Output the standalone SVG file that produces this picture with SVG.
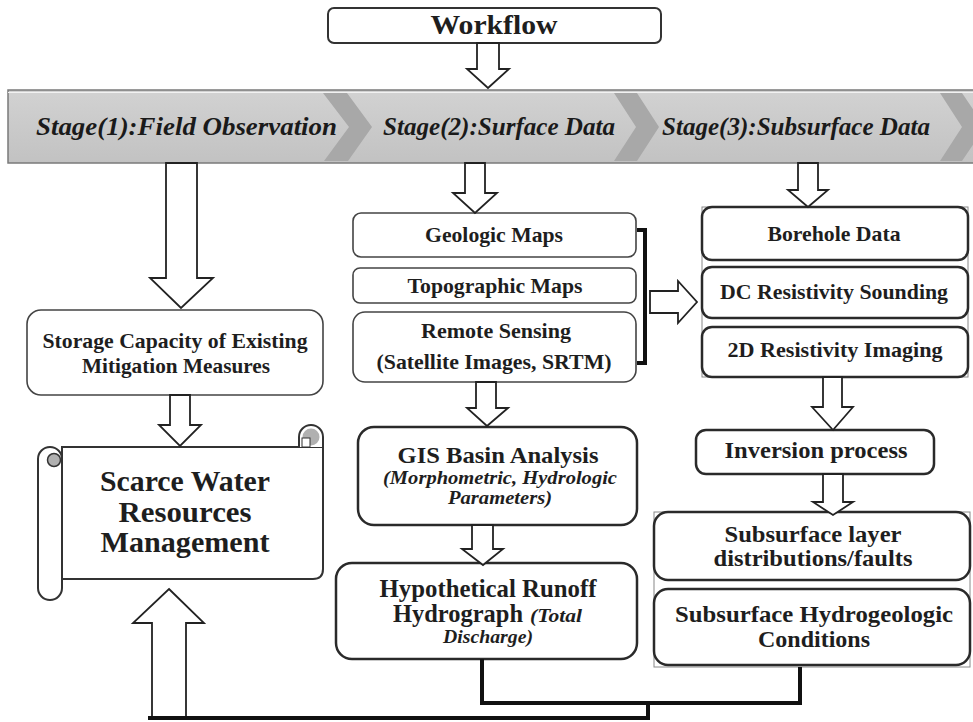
<svg xmlns="http://www.w3.org/2000/svg" width="973" height="722" viewBox="0 0 973 722">
<defs>
<linearGradient id="bg" x1="0" y1="0" x2="0" y2="1">
<stop offset="0" stop-color="#d2d2d2"/>
<stop offset="1" stop-color="#c2c2c2"/>
</linearGradient>
</defs>
<style>
text{font-family:"Liberation Serif","Times New Roman",serif;font-weight:bold;fill:#1e1e1e;text-anchor:middle}
.it{font-style:italic}
.stage{font-style:italic;font-size:26px;text-anchor:start;fill:#1a1a1a}
.box{fill:#fff;stroke:#2a2a2a;stroke-width:2.5}
.thin{fill:#fff;stroke:#444;stroke-width:1.6}
.arrow{fill:#fff;stroke:#222;stroke-width:1.8;stroke-linejoin:miter}
.conn{fill:none;stroke:#111;stroke-width:4}
.band{fill:#a8a8a8}
</style>

<g id="banner">
<rect x="8" y="90" width="975" height="73" fill="url(#bg)" stroke="#7a7a7a" stroke-width="1.5"/>
<line x1="8" y1="92.5" x2="973" y2="92.5" stroke="#f2f2f2" stroke-width="1.2"/>
<polygon class="band" points="323,93 347,93 372,127 348,161 324,161 349,127"/>
<polygon class="band" points="614,93 637,93 659,127 637,161 614,161 636,127"/>
<polygon class="band" points="940,93 962,93 985,127 962,161 940,161 962,127"/>
<text class="stage" x="36" y="135" textLength="301" lengthAdjust="spacingAndGlyphs">Stage(1):Field Observation</text>
<text class="stage" x="383" y="135" textLength="232" lengthAdjust="spacingAndGlyphs">Stage(2):Surface Data</text>
<text class="stage" x="662" y="135" textLength="268" lengthAdjust="spacingAndGlyphs">Stage(3):Subsurface Data</text>
</g>

<g id="workflow">
<rect x="328" y="8" width="333" height="35" rx="6" fill="#fff" stroke="#333" stroke-width="2"/>
<text x="494" y="34" font-size="28" textLength="127" lengthAdjust="spacingAndGlyphs">Workflow</text>
</g>

<g id="storage">
<rect x="27" y="310" width="296" height="85" rx="14" class="thin"/>
<text x="175" y="348" font-size="21" textLength="265" lengthAdjust="spacingAndGlyphs">Storage Capacity of Existing</text>
<text x="176" y="373" font-size="21" textLength="188" lengthAdjust="spacingAndGlyphs">Mitigation Measures</text>
</g>

<g id="scroll">
<path d="M62,447 H323 V569 Q323,579 313,579 H62 Z" fill="#fff" stroke="#333" stroke-width="2"/>
<path d="M299,447 V437 A12,12 0 0 1 323,437 V447" fill="#fff" stroke="#333" stroke-width="2"/>
<circle cx="311" cy="437" r="8.5" fill="#b0b0b0"/>
<rect x="302" y="438" width="8" height="9" fill="#fff" stroke="#333" stroke-width="1"/>
<rect x="38" y="447" width="24" height="153" rx="12" fill="#fff" stroke="#333" stroke-width="2"/>
<circle cx="54" cy="460" r="6.5" fill="#b0b0b0" stroke="#333" stroke-width="1.5"/>
<text x="185" y="491" font-size="29" textLength="170" lengthAdjust="spacingAndGlyphs">Scarce Water</text>
<text x="185" y="522" font-size="29" textLength="133" lengthAdjust="spacingAndGlyphs">Resources</text>
<text x="185" y="552" font-size="29" textLength="169" lengthAdjust="spacingAndGlyphs">Management</text>
</g>

<g id="geologic">
<rect x="353" y="213" width="283" height="44" rx="8" class="thin"/>
<text x="494" y="242" font-size="21" textLength="138" lengthAdjust="spacingAndGlyphs">Geologic Maps</text>
</g>
<g id="topographic">
<rect x="353" y="268" width="283" height="35" rx="7" class="thin"/>
<text x="495" y="293" font-size="21" textLength="175" lengthAdjust="spacingAndGlyphs">Topographic Maps</text>
</g>
<g id="remote">
<rect x="353" y="312" width="283" height="70" rx="12" class="thin"/>
<text x="496" y="338" font-size="21" textLength="150" lengthAdjust="spacingAndGlyphs">Remote Sensing</text>
<text x="494" y="369" font-size="21" textLength="235" lengthAdjust="spacingAndGlyphs">(Satellite Images, SRTM)</text>
</g>

<g id="borehole-group">
<rect x="702" y="207" width="266" height="170" fill="none" stroke="#888" stroke-width="1"/>
</g>
<g id="borehole">
<rect x="702" y="207" width="266" height="53" rx="10" class="box"/>
<text x="834" y="241" font-size="21" textLength="133" lengthAdjust="spacingAndGlyphs">Borehole Data</text>
</g>
<g id="dc">
<rect x="702" y="267" width="266" height="51" rx="10" class="box"/>
<text x="834" y="299" font-size="21" textLength="228" lengthAdjust="spacingAndGlyphs">DC Resistivity Sounding</text>
</g>
<g id="imaging">
<rect x="702" y="327" width="266" height="50" rx="10" class="box"/>
<text x="835" y="357" font-size="21" textLength="215" lengthAdjust="spacingAndGlyphs">2D Resistivity Imaging</text>
</g>

<g id="inversion">
<rect x="696" y="430" width="238" height="44" rx="10" class="box"/>
<text x="816" y="458" font-size="24" textLength="183" lengthAdjust="spacingAndGlyphs">Inversion process</text>
</g>

<g id="subsurface-group">
<rect x="654" y="512" width="316" height="155" fill="none" stroke="#888" stroke-width="1"/>
</g>
<g id="layers">
<rect x="654" y="512" width="316" height="68" rx="14" class="box"/>
<text x="813" y="542" font-size="23" textLength="177" lengthAdjust="spacingAndGlyphs">Subsurface layer</text>
<text x="813" y="566" font-size="23" textLength="199" lengthAdjust="spacingAndGlyphs">distributions/faults</text>
</g>
<g id="hydrogeologic">
<rect x="654" y="589" width="316" height="76" rx="14" class="box"/>
<text x="814" y="622" font-size="24" textLength="278" lengthAdjust="spacingAndGlyphs">Subsurface Hydrogeologic</text>
<text x="814" y="647" font-size="24" textLength="112" lengthAdjust="spacingAndGlyphs">Conditions</text>
</g>

<g id="gis">
<rect x="358" y="427" width="279" height="98" rx="16" class="box"/>
<text x="498" y="463" font-size="24" textLength="201" lengthAdjust="spacingAndGlyphs">GIS Basin Analysis</text>
<text x="500" y="484" font-size="18" class="it" textLength="234" lengthAdjust="spacingAndGlyphs">(Morphometric, Hydrologic</text>
<text x="500" y="504" font-size="18" class="it" textLength="104" lengthAdjust="spacingAndGlyphs">Parameters)</text>
</g>

<g id="hydrograph">
<rect x="336" y="563" width="301" height="96" rx="16" class="box"/>
<text x="488" y="597" font-size="25" textLength="217" lengthAdjust="spacingAndGlyphs">Hypothetical Runoff</text>
<text x="458" y="622" font-size="25" textLength="130" lengthAdjust="spacingAndGlyphs">Hydrograph</text>
<text x="556" y="622" font-size="18" class="it" textLength="52" lengthAdjust="spacingAndGlyphs">(Total</text>
<text x="488" y="643" font-size="18" class="it" textLength="90" lengthAdjust="spacingAndGlyphs">Discharge)</text>
</g>

<g id="connectors">
<polygon class="arrow" points="477,43 499,43 499,69 509,69 488,88 467,69 477,69"/>
<polygon class="arrow" points="166,163 197,163 197,278 213,278 181,308 150,278 166,278"/>
<polygon class="arrow" points="465,163 485,163 485,193 497,193 475,213 453,193 465,193"/>
<polygon class="arrow" points="798,163 818,163 818,190 828,190 808,207 788,190 798,190"/>
<polygon class="arrow" points="170,395 190,395 190,425 201,425 180,446 159,425 170,425"/>
<polygon class="arrow" points="650,291 678,291 678,281 697,302 678,323 678,313 650,313"/>
<polygon class="arrow" points="476,382 496,382 496,408 508,408 487,426 467,408 476,408"/>
<polygon class="arrow" points="472,525 493,525 493,549 503,549 483,565 462,549 472,549"/>
<polygon class="arrow" points="823,377 842,377 842,407 853,407 833,430 812,407 823,407"/>
<polygon class="arrow" points="823,474 843,474 843,502 853,502 833,515 813,502 823,502"/>
<polygon class="arrow" points="169,589 204,623 186,623 186,717 152,717 152,623 133,623"/>
<path class="conn" d="M637,230 H645 V363 H637" stroke-width="2"/>
<path class="conn" d="M482,659 V703 H800 V667"/>
<path class="conn" d="M648,703 V718 H148"/>
</g>
</svg>
